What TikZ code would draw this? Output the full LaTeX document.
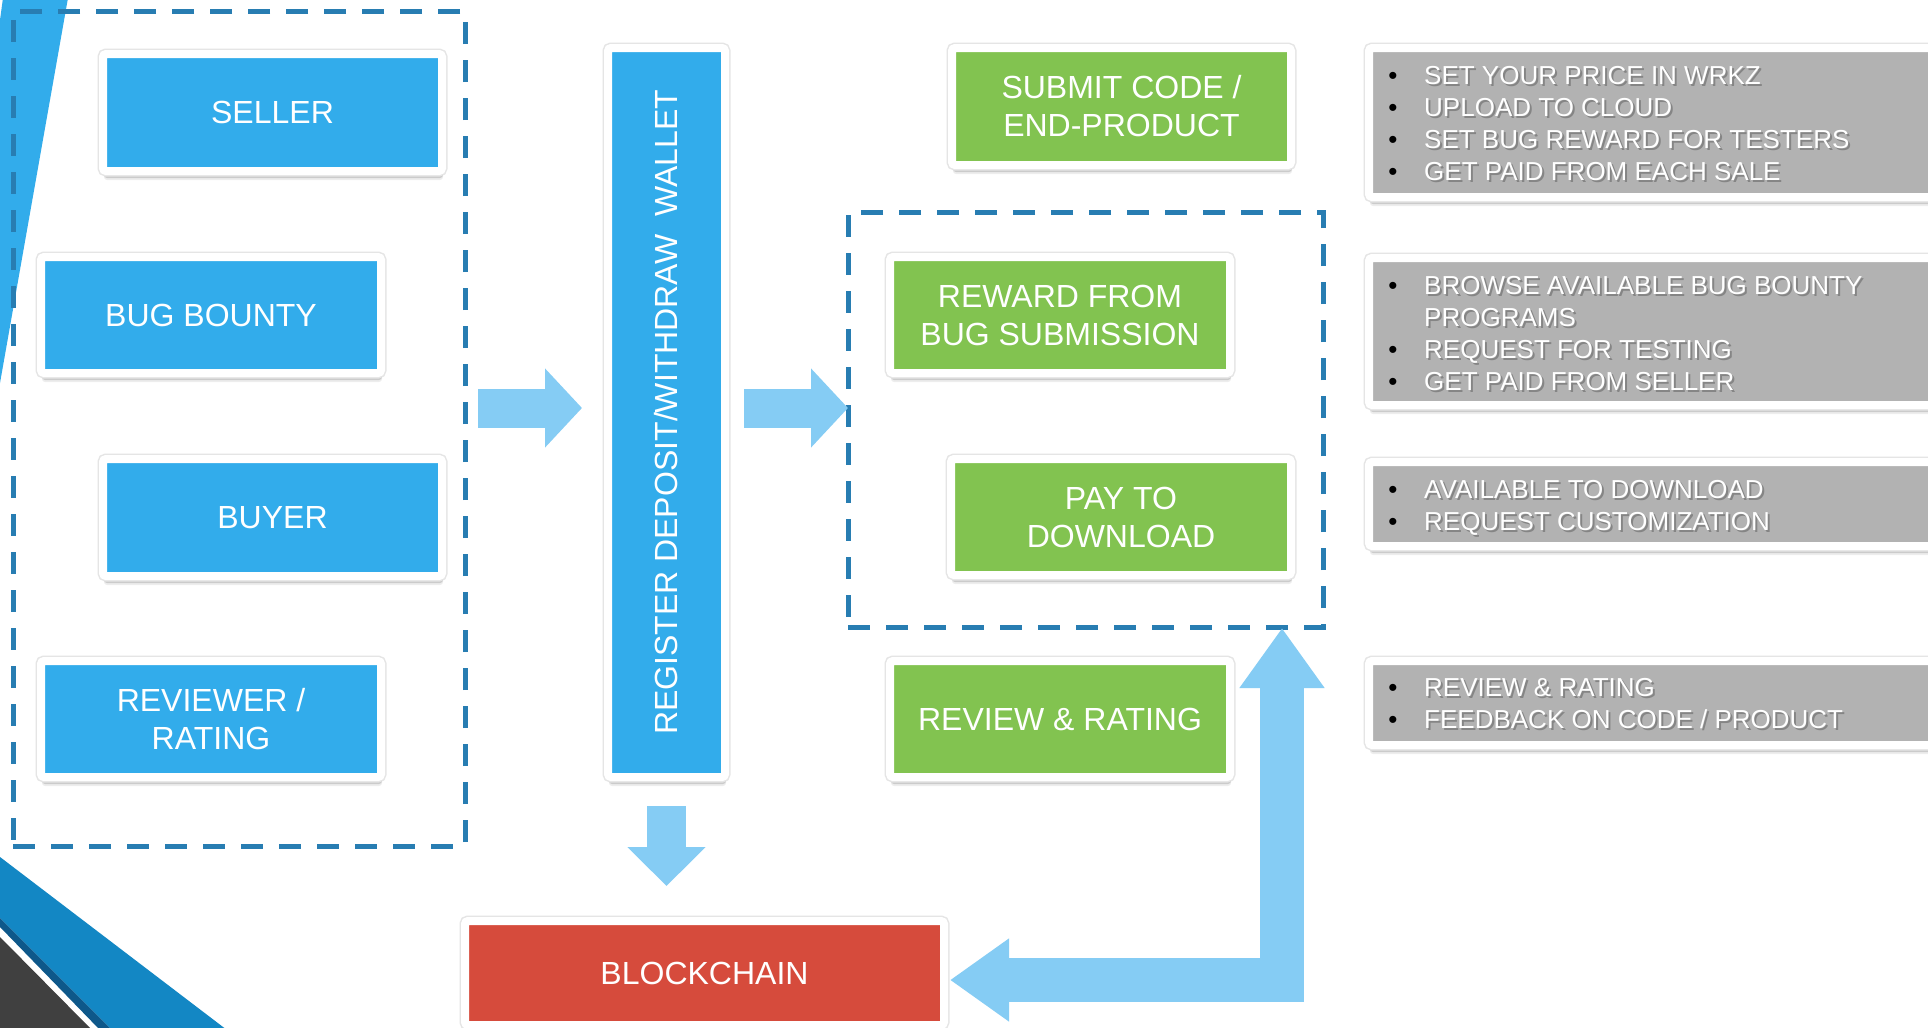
\documentclass[tikz,border=0pt]{standalone}
\usepackage{fontspec}
\setmainfont{Liberation Sans}
\usetikzlibrary{shadows,arrows.meta,calc}
\definecolor{boxblue}{RGB}{50,172,235}
\definecolor{boxgreen}{RGB}{130,195,80}
\definecolor{boxred}{RGB}{214,75,60}
\definecolor{boxgray}{RGB}{178,178,178}
\definecolor{arrowblue}{RGB}{133,204,244}
\definecolor{dashblue}{RGB}{40,125,178}
\definecolor{bandblue}{RGB}{19,135,196}
\definecolor{bandnavy}{RGB}{14,88,138}
\definecolor{darkgraycol}{RGB}{64,64,64}
\newcommand\gitem[3]{%
  \node[gbullet] (#1b) at (1393,#2) {\textbullet};
  \node[gshadow] (#1s) at (1426,{#2+2}) {#3};
  \node[gtext] (#1) at (1424,#2) {#3};}
\newcommand\gcont[3]{%
  \node[gshadow] (#1s) at (1426,{#2+2}) {#3};
  \node[gtext] (#1) at (1424,#2) {#3};}
\begin{document}
\begin{tikzpicture}[x=1pt,y=-1pt,
  framed/.style={draw=white, line width=8pt, rounded corners=3pt, inner sep=0pt,
    text=white, align=center, font=\fontsize{32}{38}\selectfont,
    drop shadow={shadow xshift=1pt, shadow yshift=-9pt, fill=black, opacity=0.07},
    drop shadow={shadow xshift=1pt, shadow yshift=-7pt, fill=black, opacity=0.14},
    preaction={draw=black!10, line width=11pt}},
  bluebox/.style={framed, fill=boxblue, minimum width=339pt, minimum height=117pt},
  greenbox/.style={framed, fill=boxgreen, minimum width=339pt, minimum height=117pt},
  graybox/.style={framed, fill=boxgray, minimum width=591pt},
  dashbox/.style={draw=dashblue, line width=5pt, dash pattern=on 22pt off 16pt, inner sep=0pt},
  blockarrow/.style={draw=arrowblue, line width=39pt},
  gtext/.style={anchor=base west, inner sep=0pt, text=white, font=\fontsize{26}{32}\selectfont},
  gshadow/.style={anchor=base west, inner sep=0pt, text=black, opacity=0.25, font=\fontsize{26}{32}\selectfont},
  gbullet/.style={anchor=base, inner sep=0pt, text=black, font=\fontsize{26}{32}\selectfont},
]
\useasboundingbox (0,0) rectangle (1928,1028);
\clip (0,0) rectangle (1928,1028);
\fill[white] (0,0) rectangle (1928,1028);

% decorations
\fill[boxblue] (3,-2) -- (68,-2) -- (0,383) -- (0,20) -- cycle;
\fill[bandblue] (0,857) -- (227,1030) -- (112,1030) -- (0,918) -- cycle;
\fill[bandnavy] (0,918) -- (112,1030) -- (100,1030) -- (0,927) -- cycle;
\fill[darkgraycol] (0,937) -- (92,1030) -- (0,1030) -- cycle;

% groups
\node[dashbox, minimum width=452pt, minimum height=835pt] (grp1) at (239,428.5) {};
\node[dashbox, minimum width=475pt, minimum height=415pt] (grp2) at (1085.5,419.5) {};

% left boxes
\node[bluebox] (seller) at (272.5,112.5) {SELLER};
\node[bluebox, minimum width=340pt, minimum height=116pt] (bug) at (211,315) {BUG BOUNTY};
\node[bluebox] (buyer) at (272.5,517.5) {BUYER};
\node[bluebox, minimum width=340pt, minimum height=116pt] (rev) at (211,719) {REVIEWER /\\RATING};

% register column
\node[bluebox, minimum width=117pt, minimum height=729pt] (reg) at (666.5,412.5) {};
\node[text=white, inner sep=0pt, rotate=90, font=\fontsize{32}{38}\selectfont] (regtxt) at (reg.center) {REGISTER DEPOSIT/WITHDRAW\ \ WALLET};

% green boxes
\node[greenbox] (submit) at (1121.5,106.5) {SUBMIT CODE /\\END-PRODUCT};
\node[greenbox, minimum width=340pt, minimum height=116pt] (reward) at (1060,315) {REWARD FROM\\BUG SUBMISSION};
\node[greenbox, minimum width=340pt, minimum height=116pt] (pay) at (1121,517) {PAY TO\\DOWNLOAD};
\node[greenbox, minimum width=340pt, minimum height=116pt] (review) at (1060,719) {REVIEW \& RATING};

% blockchain
\node[framed, fill=boxred, minimum width=479pt, minimum height=104pt] (chain) at (704.5,973) {BLOCKCHAIN};

% gray info boxes
\node[graybox, minimum height=149pt] (g1) at (1664.5,122.5) {};
\node[graybox, minimum height=147pt] (g2) at (1664.5,331.5) {};
\node[graybox, minimum height=84pt] (g3) at (1664.5,504) {};
\node[graybox, minimum height=84pt] (g4) at (1664.5,703) {};

\gitem{ga}{84}{SET YOUR PRICE IN WRKZ}
\gitem{gb}{116}{UPLOAD TO CLOUD}
\gitem{gc}{148}{SET BUG REWARD FOR TESTERS}
\gitem{gd}{180}{GET PAID FROM EACH SALE}
\gitem{ge}{294}{BROWSE AVAILABLE BUG BOUNTY}
\gcont{gf}{326}{PROGRAMS}
\gitem{gg}{358}{REQUEST FOR TESTING}
\gitem{gh}{390}{GET PAID FROM SELLER}
\gitem{gi}{498}{AVAILABLE TO DOWNLOAD}
\gitem{gj}{530}{REQUEST CUSTOMIZATION}
\gitem{gk}{696}{REVIEW \& RATING}
\gitem{gl}{728}{FEEDBACK ON CODE / PRODUCT}

% arrows
\coordinate (a1s) at (478,408);
\coordinate (a1e) at (582,408);
\coordinate (a2s) at (744,408);
\coordinate (a2e) at (848,408);
\coordinate (a3s) at (666.5,806);
\coordinate (a3e) at (666.5,886);
\coordinate (lup) at (1282,628);
\coordinate (ldn) at (950,980);
\draw[blockarrow, -{Triangle[width=77pt,length=37pt]}] (a1s) -- (a1e);
\draw[blockarrow, -{Triangle[width=77pt,length=37pt]}] (a2s) -- (a2e);
\draw[blockarrow, -{Triangle[width=76pt,length=39pt]}] (a3s) -- (a3e);
\draw[blockarrow, line width=44pt, line join=miter,
  {Triangle[width=81pt,length=60pt]}-{Triangle[width=79pt,length=59pt]}] (lup) |- (ldn);
\end{tikzpicture}
\end{document}
